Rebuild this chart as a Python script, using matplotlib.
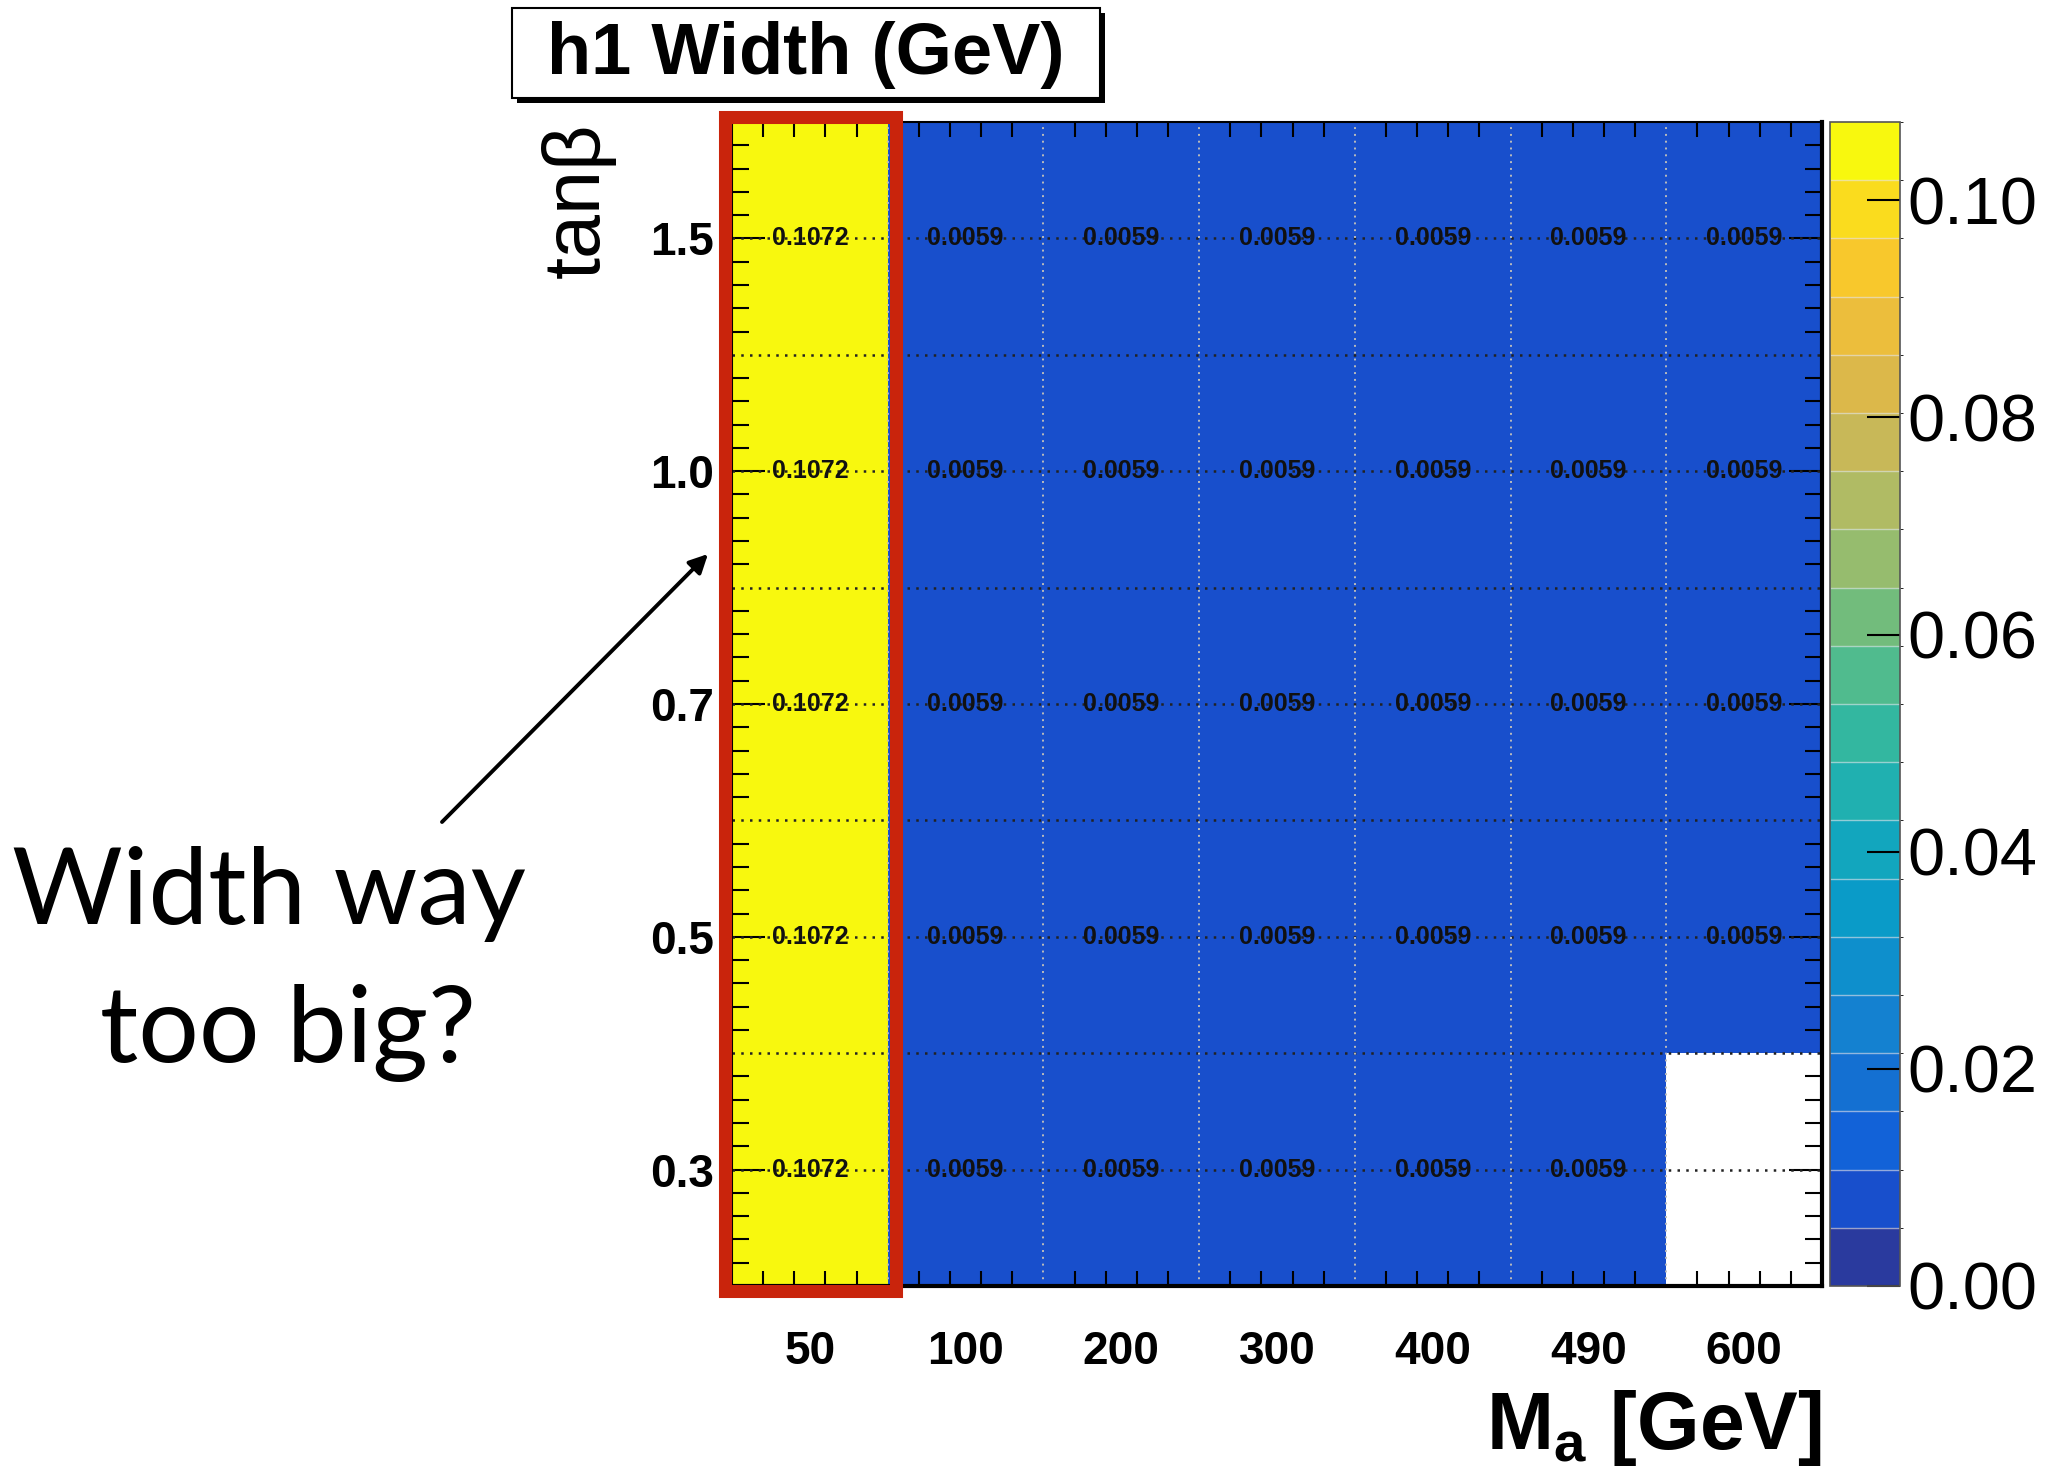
import numpy as np
import matplotlib
matplotlib.use("Agg")
import matplotlib.pyplot as plt
from matplotlib.colors import ListedColormap, BoundaryNorm
from matplotlib.patches import Rectangle

plt.rcParams['font.family'] = ['Liberation Sans', 'DejaVu Sans']
plt.rcParams['mathtext.fontset'] = 'custom'
plt.rcParams['mathtext.rm'] = 'Liberation Sans'
plt.rcParams['mathtext.bf'] = 'Liberation Sans:bold'

# data
ma_labels = ['50', '100', '200', '300', '400', '490', '600']
tanb_labels = ['0.3', '0.5', '0.7', '1.0', '1.5']
# h1 width in GeV, rows = tanb (bottom to top), cols = M_a
width_03 = [0.1072, 0.0059, 0.0059, 0.0059, 0.0059, 0.0059, np.nan]
width_05 = [0.1072, 0.0059, 0.0059, 0.0059, 0.0059, 0.0059, 0.0059]
width_07 = [0.1072, 0.0059, 0.0059, 0.0059, 0.0059, 0.0059, 0.0059]
width_10 = [0.1072, 0.0059, 0.0059, 0.0059, 0.0059, 0.0059, 0.0059]
width_15 = [0.1072, 0.0059, 0.0059, 0.0059, 0.0059, 0.0059, 0.0059]
z_max = 0.1072
cbar_ticks = [0.00, 0.02, 0.04, 0.06, 0.08, 0.10]

widths = np.ma.masked_invalid(np.array([width_03, width_05, width_07, width_10, width_15]))

# ROOT-like palette, 20 contour bands (bottom to top)
band_colors = ['#2a3a9e', '#184fcc', '#1262d8', '#1470d2', '#1481d0',
               '#0e8fcc', '#0a9bc8', '#12a6be', '#20b0b0', '#33b7a0',
               '#50bb8e', '#72bc7c', '#96bc6e', '#b0bb64', '#c8b858',
               '#dcb84a', '#ecbe3c', '#f8c82c', '#fadc1e', '#f8f80e']
cmap = ListedColormap(band_colors)
cmap.set_bad('white')
levels = np.linspace(0, z_max, len(band_colors) + 1)
norm = BoundaryNorm(levels, cmap.N)

W, H = 2055, 1470
fig = plt.figure(figsize=(W / 100, H / 100), dpi=100)

def fx(px):
    return px / W

def fy(py):
    return 1 - py / H

ax = fig.add_axes([fx(732), fy(1286), fx(1822) - fx(732), fy(122) - fy(1286)])
ncol, nrow = len(ma_labels), len(tanb_labels)
mesh = ax.pcolormesh(np.arange(ncol + 1), np.arange(nrow + 1), widths,
                     cmap=cmap, norm=norm, zorder=1)
ax.set_xlim(0, ncol)
ax.set_ylim(0, nrow)

# dotted grid
for i in range(1, nrow):
    ax.axhline(i, color='#222222', lw=1.8, ls=(0, (1, 2.5)), zorder=2)
for i in range(nrow):
    ax.axhline(i + 0.5, color='#222222', lw=1.8, ls=(0, (1, 2.5)), zorder=2)
for j in range(1, ncol):
    ax.axvline(j, color='#bbbbbb', lw=1.4, ls=(0, (1, 2.5)), zorder=2)

# cell values
for i in range(nrow):
    for j in range(ncol):
        v = widths[i, j]
        if v is np.ma.masked:
            continue
        ax.text(j + 0.5, i + 0.5, f'{v:.4f}', ha='center', va='center',
                fontsize=18, fontweight='bold', color='#111111', zorder=3)

# ticks
ax.set_xticks(np.arange(ncol) + 0.5)
ax.set_xticklabels(ma_labels, fontsize=33, fontweight='bold')
ax.set_xticks([j + f for j in range(ncol) for f in (0.2, 0.4, 0.6, 0.8)], minor=True)
ax.set_yticks(np.arange(nrow) + 0.5)
ax.set_yticklabels(tanb_labels, fontsize=33, fontweight='bold')
ax.set_yticks([i + f / 10 for i in range(nrow) for f in range(1, 10) if f != 5], minor=True)
ax.tick_params(axis='x', which='major', length=0, pad=32)
ax.tick_params(axis='x', which='minor', direction='in', length=11, width=1.5,
               top=True, bottom=True)
ax.tick_params(axis='y', which='major', direction='in', length=24, width=1.5,
               left=True, right=True, pad=13)
ax.tick_params(axis='y', which='minor', direction='in', length=12, width=1.5,
               left=True, right=True)
for side in ['top', 'left']:
    ax.spines[side].set_linewidth(1.5)
for side in ['right', 'bottom']:
    ax.spines[side].set_linewidth(3)

# colour bar
cax = fig.add_axes([fx(1830), fy(1286), fx(1900) - fx(1830), fy(122) - fy(1286)])
cb = fig.colorbar(mesh, cax=cax, ticks=cbar_ticks, format='%.2f', drawedges=True)
cb.dividers.set_color('#e8e8e8')
cb.dividers.set_linewidth(1.0)
cb.dividers.set_alpha(0.6)
cb.outline.set_linewidth(1.2)
cb.outline.set_edgecolor('#555555')
cb.ax.tick_params(direction='in', length=24, width=1.5, labelsize=48, pad=5)

# axis titles
fig.text(fx(1822), fy(1449), r'$\mathbf{M_a}$ [GeV]', ha='right', va='baseline',
         fontsize=58, fontweight='bold')
fig.text(fx(578), fy(122), 'tanβ', ha='center', va='top', rotation=90, fontsize=57)

# title box with shadow
fig.patches.append(Rectangle((fx(517), fy(103)), fx(1105) - fx(517), fy(13) - fy(103),
                             transform=fig.transFigure, facecolor='black',
                             edgecolor='none', zorder=5))
fig.patches.append(Rectangle((fx(512), fy(98)), fx(1100) - fx(512), fy(8) - fy(98),
                             transform=fig.transFigure, facecolor='white',
                             edgecolor='black', lw=1.5, zorder=6))
fig.text(fx(806), fy(55), 'h1 Width (GeV)', ha='center', va='center',
         fontsize=52, fontweight='bold', zorder=7)

# red highlight around the first column
fig.patches.append(Rectangle((fx(724.5), fy(1290.5)), fx(895.5) - fx(724.5),
                             fy(116.5) - fy(1290.5), transform=fig.transFigure,
                             facecolor='none', edgecolor='#c9240c', lw=9.4, zorder=8))

# annotation
ax.annotate('', xy=(708, H - 554), xycoords='figure pixels',
            xytext=(442, H - 822), textcoords='figure pixels',
            arrowprops=dict(arrowstyle='-|>', color='black', lw=2.8,
                            mutation_scale=28, shrinkA=0, shrinkB=0),
            annotation_clip=False)
fig.text(fx(269), fy(924), 'Width way', ha='center', va='baseline',
         fontsize=77, family='Lato')
fig.text(fx(288), fy(1062), 'too big?', ha='center', va='baseline',
         fontsize=77, family='Lato')

fig.savefig('out.png', dpi=100)
